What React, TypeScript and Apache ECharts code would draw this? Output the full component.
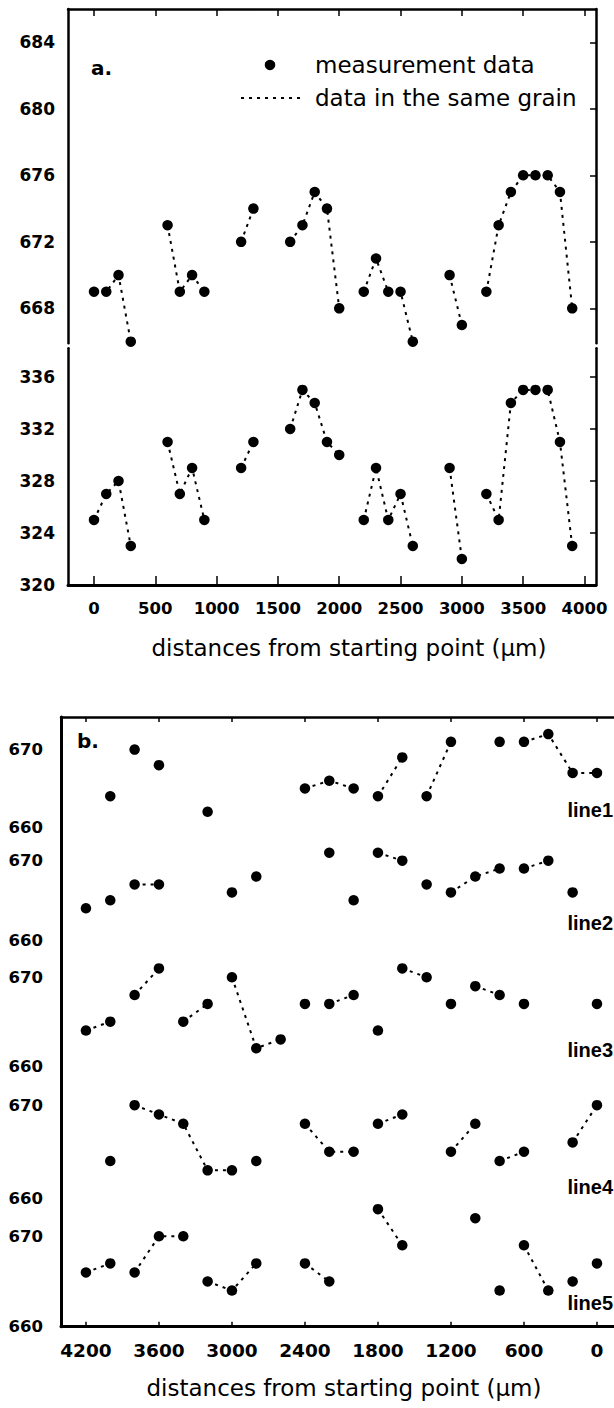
import React, { useEffect, useRef } from 'react';
import * as echarts from 'echarts';

// ---------- Panel a data ----------
const aX = [0, 100, 200, 300, 600, 700, 800, 900, 1200, 1300, 1600, 1700, 1800, 1900, 2000, 2200, 2300, 2400, 2500, 2600, 2900, 3000, 3200, 3300, 3400, 3500, 3600, 3700, 3800, 3900];
const aUpper = [669, 669, 670, 666, 673, 669, 670, 669, 672, 674, 672, 673, 675, 674, 668, 669, 671, 669, 669, 666, 670, 667, 669, 673, 675, 676, 676, 676, 675, 668];
const aLower = [325, 327, 328, 323, 331, 327, 329, 325, 329, 331, 332, 335, 334, 331, 330, 325, 329, 325, 327, 323, 329, 322, 327, 325, 334, 335, 335, 335, 331, 323];
// grains: x ranges [from, to] of points in the same grain
const aGrains = [[0, 300], [600, 900], [1200, 1300], [1600, 2000], [2200, 2600], [2900, 3000], [3200, 3900]];
const aXTicks = [0, 500, 1000, 1500, 2000, 2500, 3000, 3500, 4000];
const aUpperTicks = [668, 672, 676, 680, 684];
const aLowerTicks = [320, 324, 328, 332, 336];

// ---------- Panel b data ----------
const bX = [4200, 4000, 3800, 3600, 3400, 3200, 3000, 2800, 2600, 2400, 2200, 2000, 1800, 1600, 1400, 1200, 1000, 800, 600, 400, 200, 0];
const line1 = [null, 664, 670, 668, null, 662, null, null, null, 665, 666, 665, 664, 669, 664, 671, null, 671, 671, 672, 667, 667];
const line2 = [664, 665, 667, 667, null, null, 666, 668, null, null, 671, 665, 671, 670, 667, 666, 668, 669, 669, 670, 666, null];
const line3 = [664, 665, 668, 671, 665, 667, 670, 662, 663, 667, 667, 668, 664, 671, 670, 667, 669, 668, 667, null, null, 667];
const line4 = [null, 664, 670, 669, 668, 663, 663, 664, null, 668, 665, 665, 668, 669, null, 665, 668, 664, 665, null, 666, 670];
const line5 = [666, 667, 666, 670, 670, 665, 664, 667, null, 667, 665, null, 673, 669, null, null, 672, 664, 669, 664, 665, 667];
const bLines = [line1, line2, line3, line4, line5];
const bNames = ['line1', 'line2', 'line3', 'line4', 'line5'];
// grains per line: x ranges [high, low]
const bGrains = [
  [[2400, 2000], [1800, 1600], [1400, 1200], [600, 0]],
  [[3800, 3600], [1800, 1600], [1200, 800], [600, 400]],
  [[4200, 4000], [3800, 3600], [3400, 3200], [3000, 2600], [2200, 2000], [1600, 1400], [1000, 800]],
  [[3800, 3000], [2400, 2000], [1800, 1600], [1200, 1000], [800, 600], [200, 0]],
  [[4200, 4000], [3800, 3400], [3200, 2800], [2400, 2200], [1800, 1600], [600, 400]],
];
const bXTicks = [4200, 3600, 3000, 2400, 1800, 1200, 600, 0];
const bYTicks = [660, 670];

const TITLE = 'distances from starting point (\u00b5m)';
const BLACK = '#000';
const FONT = 'DejaVu Sans';

function buildOption() {
  const grid: any[] = [];
  const xAxis: any[] = [];
  const yAxis: any[] = [];
  const series: any[] = [];

  const dotted = { color: BLACK, width: 2, type: [3, 5] };
  const labelStyle = (size: number, margin: number, values: number[]) => ({
    show: true,
    customValues: values,
    formatter: (v: number) => String(v),
    fontFamily: FONT,
    fontWeight: 'bold',
    fontSize: size,
    color: BLACK,
    margin,
  });
  const axLine = (w: number) => ({ show: true, onZero: false, lineStyle: { color: BLACK, width: w } });

  const addPoints = (xs: number[], vals: (number | null)[], xi: number, yi: number, grains: number[][]) => {
    const pts: number[][] = [];
    xs.forEach((x, i) => {
      if (vals[i] != null) pts.push([x, vals[i] as number]);
    });
    grains.forEach((g) => {
      const lo = Math.min(g[0], g[1]);
      const hi = Math.max(g[0], g[1]);
      series.push({
        type: 'line',
        xAxisIndex: xi,
        yAxisIndex: yi,
        data: pts.filter((p) => p[0] >= lo && p[0] <= hi),
        symbol: 'none',
        lineStyle: dotted,
        clip: false,
        silent: true,
        z: 1,
      });
    });
    series.push({
      type: 'scatter',
      xAxisIndex: xi,
      yAxisIndex: yi,
      data: pts,
      symbolSize: 10.5,
      itemStyle: { color: BLACK, opacity: 1 },
      clip: false,
      silent: true,
      z: 2,
    });
  };

  // ----- Panel a -----
  grid.push({ left: 68, width: 528, top: 9, height: 334.3 });
  grid.push({ left: 68, width: 528, top: 348.3, height: 236.7 });
  xAxis.push({
    type: 'value', gridIndex: 0, position: 'top', min: -212, max: 4094,
    axisLine: axLine(2.5),
    axisTick: { show: true, inside: true, length: 7, customValues: aXTicks, lineStyle: { color: BLACK, width: 1.5 } },
    axisLabel: { show: false }, splitLine: { show: false },
  });
  xAxis.push({
    type: 'value', gridIndex: 1, position: 'bottom', min: -212, max: 4094,
    axisLine: axLine(3),
    axisTick: { show: true, inside: true, length: 9, customValues: aXTicks, lineStyle: { color: BLACK, width: 1.5 } },
    axisLabel: labelStyle(16.5, 15, aXTicks), splitLine: { show: false },
  });
  yAxis.push({
    type: 'value', gridIndex: 0, position: 'left', min: 665.9, max: 686,
    axisLine: axLine(2.5),
    axisTick: { show: false }, axisLabel: labelStyle(17, 13, aUpperTicks), splitLine: { show: false },
  });
  yAxis.push({
    type: 'value', gridIndex: 0, position: 'right', min: 665.9, max: 686,
    axisLine: axLine(2.5),
    axisTick: { show: true, inside: true, length: 6, customValues: aUpperTicks, lineStyle: { color: BLACK, width: 1.5 } },
    axisLabel: { show: false }, splitLine: { show: false },
  });
  yAxis.push({
    type: 'value', gridIndex: 1, position: 'left', min: 320, max: 338.2,
    axisLine: axLine(2.5),
    axisTick: { show: false }, axisLabel: labelStyle(17, 13, aLowerTicks), splitLine: { show: false },
  });
  yAxis.push({
    type: 'value', gridIndex: 1, position: 'right', min: 320, max: 338.2,
    axisLine: axLine(2.5),
    axisTick: { show: true, inside: true, length: 6, customValues: aLowerTicks, lineStyle: { color: BLACK, width: 1.5 } },
    axisLabel: { show: false }, splitLine: { show: false },
  });
  addPoints(aX, aUpper, 0, 0, aGrains);
  addPoints(aX, aLower, 1, 2, aGrains);

  // ----- Panel b -----
  const bands = [717, 827.3, 940, 1066, 1198.3, 1326.7];
  for (let i = 0; i < 5; i++) {
    grid.push({ left: 61, right: 0, top: bands[i], height: bands[i + 1] - bands[i] });
    const xi = 2 + i;
    const yi = 4 + i;
    const xa: any = {
      type: 'value', gridIndex: 2 + i, inverse: true, min: -140, max: 4405,
      splitLine: { show: false },
    };
    if (i === 0) {
      Object.assign(xa, {
        position: 'top',
        axisLine: axLine(2.5),
        axisTick: { show: true, inside: true, length: 5, customValues: bXTicks, lineStyle: { color: BLACK, width: 1.5 } },
        axisLabel: { show: false },
      });
    } else if (i === 4) {
      Object.assign(xa, {
        position: 'bottom',
        axisLine: axLine(3),
        axisTick: { show: true, inside: true, length: 5, customValues: bXTicks, lineStyle: { color: BLACK, width: 1.5 } },
        axisLabel: labelStyle(18.5, 14, bXTicks),
      });
    } else {
      xa.show = false;
    }
    xAxis.push(xa);
    yAxis.push({
      type: 'value', gridIndex: 2 + i, position: 'left', min: 660, max: 674.2,
      axisLine: axLine(3),
      axisTick: { show: false }, axisLabel: labelStyle(16.5, 18, bYTicks), splitLine: { show: false },
    });
    addPoints(bX, bLines[i], xi, yi, bGrains[i]);
  }

  const txt = (text: string, x: number, y: number, size: number, bold: boolean, align: string) => ({
    type: 'text', x, y, silent: true,
    style: {
      text, fill: BLACK, fontFamily: FONT, fontSize: size, fontWeight: bold ? 'bold' : 'normal',
      align, verticalAlign: 'middle', textAlign: align, textVerticalAlign: 'middle',
    },
  });

  const lineLabelY = [810, 923, 1050, 1187, 1303];
  const graphic: any[] = [
    txt('a.', 91, 68, 20, true, 'left'),
    { type: 'circle', shape: { cx: 270, cy: 65, r: 5.25 }, style: { fill: BLACK }, silent: true },
    txt('measurement data', 315, 65, 23, false, 'left'),
    { type: 'line', shape: { x1: 241, y1: 98, x2: 302, y2: 98 }, style: { stroke: BLACK, lineWidth: 2, lineDash: [3, 5] }, silent: true },
    txt('data in the same grain', 315, 98, 23, false, 'left'),
    txt(TITLE, 349, 648, 23, false, 'center'),
    txt('b.', 77, 741, 20, true, 'left'),
    txt(TITLE, 344, 1388, 23, false, 'center'),
  ];
  bNames.forEach((n, i) => {
    graphic.push({
      type: 'text', x: 613, y: lineLabelY[i], silent: true,
      style: {
        text: n, fill: BLACK, fontFamily: 'Liberation Sans', fontSize: 20, fontWeight: 'bold',
        align: 'right', verticalAlign: 'middle', textAlign: 'right', textVerticalAlign: 'middle',
      },
    });
  });

  return {
    animation: false,
    backgroundColor: '#fff',
    grid,
    xAxis,
    yAxis,
    series,
    graphic,
  };
}

export default function App() {
  const ref = useRef<HTMLDivElement>(null);
  useEffect(() => {
    const chart = echarts.init(ref.current as HTMLDivElement, null, { renderer: 'svg' });
    chart.setOption(buildOption() as any);
    return () => chart.dispose();
  }, []);
  return (
    <div
      ref={ref}
      style={{ position: 'absolute', left: 0, top: 0, width: 614, height: 1408, background: '#fff' }}
    />
  );
}
